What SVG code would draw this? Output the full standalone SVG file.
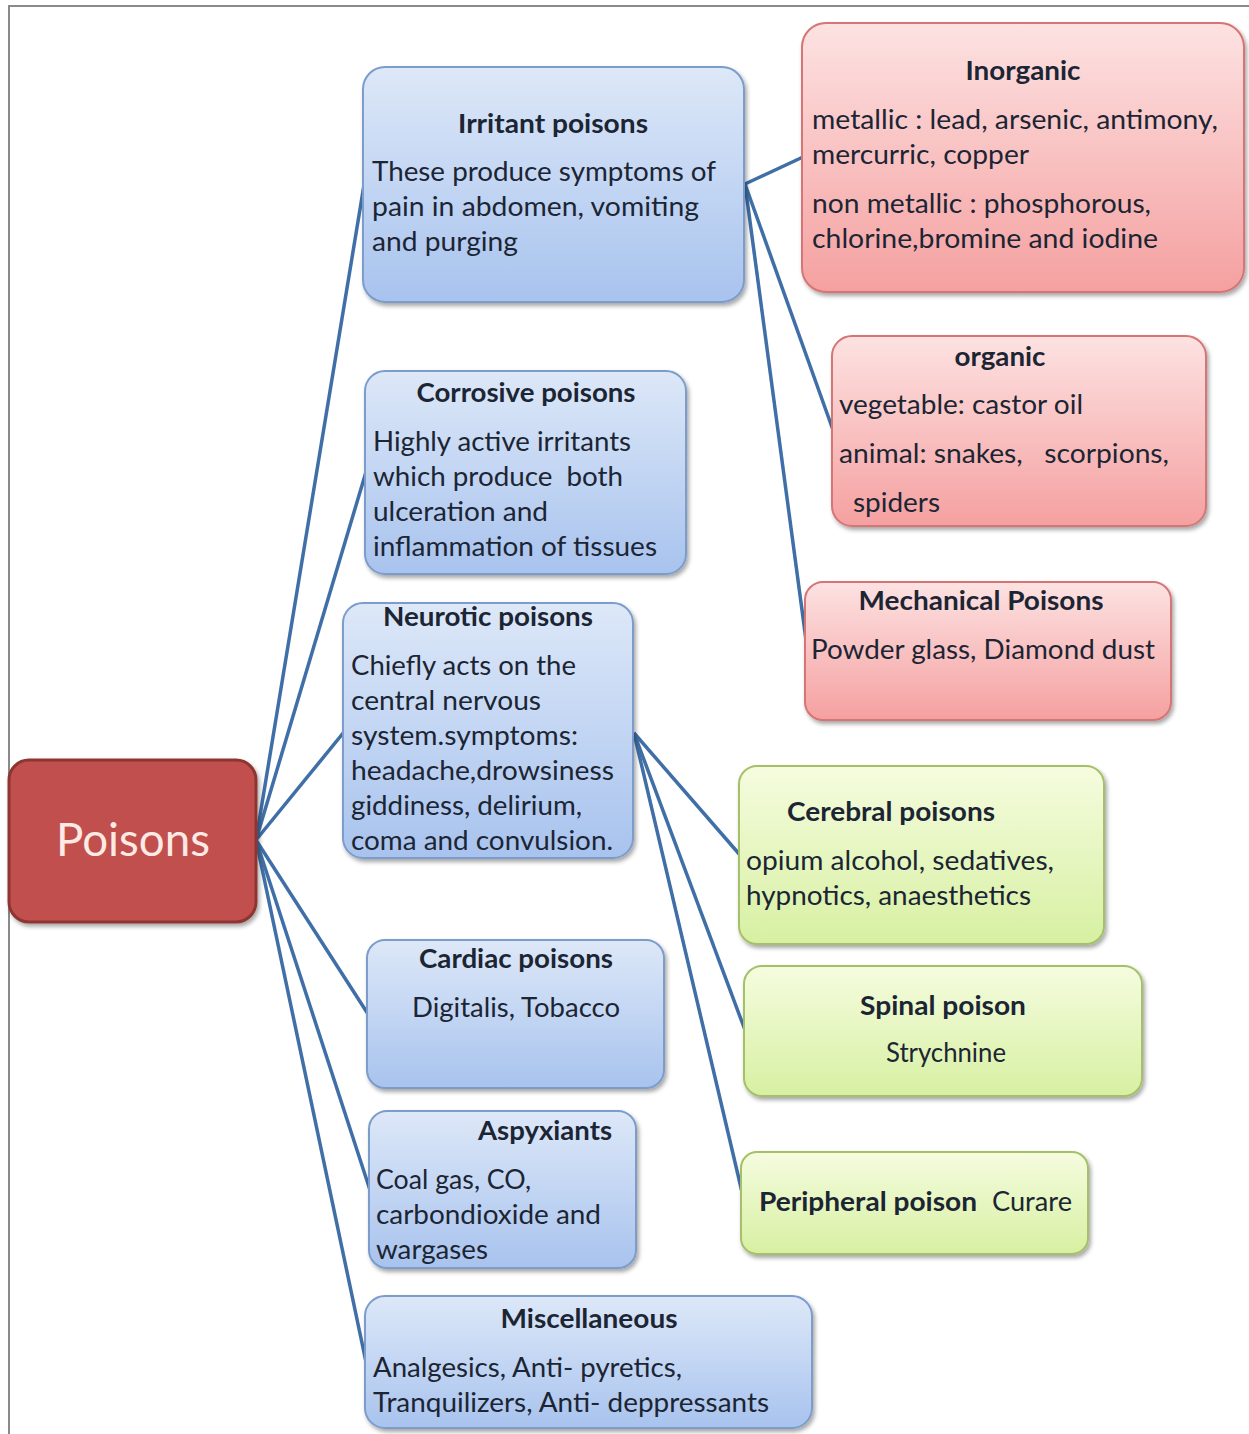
<svg xmlns="http://www.w3.org/2000/svg" width="1249" height="1434" viewBox="0 0 1249 1434">
<defs>
<linearGradient id="gBlue" x1="0" y1="0" x2="0" y2="1"><stop offset="0" stop-color="#dde8f8"/><stop offset="1" stop-color="#a8c3ee"/></linearGradient>
<linearGradient id="gRed" x1="0" y1="0" x2="0" y2="1"><stop offset="0" stop-color="#fde2e2"/><stop offset="1" stop-color="#f5a0a0"/></linearGradient>
<linearGradient id="gGreen" x1="0" y1="0" x2="0" y2="1"><stop offset="0" stop-color="#f5fcdf"/><stop offset="1" stop-color="#d7f0a2"/></linearGradient>
<filter id="sh" x="-10%" y="-10%" width="125%" height="130%"><feDropShadow dx="2" dy="3" stdDeviation="2" flood-color="#000" flood-opacity="0.35"/></filter>
<style>
.blue{fill:url(#gBlue);stroke:#7b9dcc;stroke-width:2;filter:url(#sh)}
.red{fill:url(#gRed);stroke:#d57474;stroke-width:2;filter:url(#sh)}
.green{fill:url(#gGreen);stroke:#a6c06a;stroke-width:2;filter:url(#sh)}
.root{fill:#c0504d;stroke:#8e3633;stroke-width:3;filter:url(#sh)}
text{font-family:Lato,"Open Sans","Liberation Sans",sans-serif;fill:#1c2533}
.t{font-weight:bold;font-size:26px;text-anchor:middle}
.b{font-size:27px}
.c{font-size:27px;text-anchor:middle}
.edge{stroke:#3f6fa6;stroke-width:3.5;fill:none}
</style>
</defs>
<rect x="0" y="0" width="1249" height="1434" fill="#ffffff"/>
<path d="M9,1434 V6 H1249" fill="none" stroke="#8a8a8a" stroke-width="2"/>

<g id="connectors">
<line class="edge" x1="256" y1="840" x2="364" y2="185"/>
<line class="edge" x1="256" y1="840" x2="366" y2="472"/>
<line class="edge" x1="256" y1="840" x2="344" y2="732"/>
<line class="edge" x1="256" y1="840" x2="368" y2="1014"/>
<line class="edge" x1="256" y1="840" x2="370" y2="1190"/>
<line class="edge" x1="256" y1="840" x2="366" y2="1362"/>
<line class="edge" x1="745" y1="184" x2="803" y2="157"/>
<line class="edge" x1="745" y1="184" x2="833" y2="430"/>
<line class="edge" x1="745" y1="184" x2="806" y2="640"/>
<line class="edge" x1="634" y1="733" x2="740" y2="855"/>
<line class="edge" x1="634" y1="733" x2="745" y2="1030"/>
<line class="edge" x1="634" y1="733" x2="742" y2="1192"/>
</g>

<g id="poisons">
<rect class="root" x="9" y="760" width="247" height="162" rx="20"/>
<text x="133" y="856" font-size="46" text-anchor="middle" style="fill:#fdeae4" textLength="154" lengthAdjust="spacingAndGlyphs">Poisons</text>
</g>

<g id="irritant">
<rect class="blue" x="363" y="67" width="381" height="235" rx="22"/>
<text class="t" x="553" y="133" textLength="190" lengthAdjust="spacingAndGlyphs">Irritant poisons</text>
<text class="b" x="372" y="181" textLength="344" lengthAdjust="spacingAndGlyphs">These produce symptoms of</text>
<text class="b" x="372" y="216" textLength="327" lengthAdjust="spacingAndGlyphs">pain in abdomen, vomiting</text>
<text class="b" x="372" y="251" textLength="146" lengthAdjust="spacingAndGlyphs">and purging</text>
</g>

<g id="corrosive">
<rect class="blue" x="365" y="371" width="321" height="203" rx="20"/>
<text class="t" x="526" y="402" textLength="219" lengthAdjust="spacingAndGlyphs">Corrosive poisons</text>
<text class="b" x="373" y="451" textLength="258" lengthAdjust="spacingAndGlyphs">Highly active irritants</text>
<text class="b" x="373" y="486" textLength="250" lengthAdjust="spacingAndGlyphs" xml:space="preserve">which produce  both</text>
<text class="b" x="373" y="521" textLength="175" lengthAdjust="spacingAndGlyphs">ulceration and</text>
<text class="b" x="373" y="556" textLength="284" lengthAdjust="spacingAndGlyphs">inflammation of tissues</text>
</g>

<g id="neurotic">
<rect class="blue" x="343" y="603" width="290" height="255" rx="20"/>
<text class="t" x="488" y="626" textLength="210" lengthAdjust="spacingAndGlyphs">Neurotic poisons</text>
<text class="b" x="351" y="675" textLength="225" lengthAdjust="spacingAndGlyphs">Chiefly acts on the</text>
<text class="b" x="351" y="710" textLength="190" lengthAdjust="spacingAndGlyphs">central nervous</text>
<text class="b" x="351" y="745" textLength="227" lengthAdjust="spacingAndGlyphs">system.symptoms:</text>
<text class="b" x="351" y="780" textLength="263" lengthAdjust="spacingAndGlyphs">headache,drowsiness</text>
<text class="b" x="351" y="815" textLength="231" lengthAdjust="spacingAndGlyphs">giddiness, delirium,</text>
<text class="b" x="351" y="850" textLength="262" lengthAdjust="spacingAndGlyphs">coma and convulsion.</text>
</g>

<g id="cardiac">
<rect class="blue" x="367" y="940" width="297" height="148" rx="18"/>
<text class="t" x="516" y="968" textLength="194" lengthAdjust="spacingAndGlyphs">Cardiac poisons</text>
<text class="c" x="516" y="1017" textLength="208" lengthAdjust="spacingAndGlyphs">Digitalis, Tobacco</text>
</g>

<g id="aspyxiants">
<rect class="blue" x="369" y="1111" width="267" height="157" rx="18"/>
<text class="t" x="545" y="1140" textLength="134" lengthAdjust="spacingAndGlyphs">Aspyxiants</text>
<text class="b" x="376" y="1189" textLength="155" lengthAdjust="spacingAndGlyphs">Coal gas, CO,</text>
<text class="b" x="376" y="1224" textLength="225" lengthAdjust="spacingAndGlyphs">carbondioxide and</text>
<text class="b" x="376" y="1259" textLength="112" lengthAdjust="spacingAndGlyphs">wargases</text>
</g>

<g id="miscellaneous">
<rect class="blue" x="365" y="1296" width="447" height="132" rx="20"/>
<text class="t" x="589" y="1328" textLength="177" lengthAdjust="spacingAndGlyphs">Miscellaneous</text>
<text class="b" x="373" y="1377" textLength="309" lengthAdjust="spacingAndGlyphs">Analgesics, Anti- pyretics,</text>
<text class="b" x="373" y="1412" textLength="396" lengthAdjust="spacingAndGlyphs">Tranquilizers, Anti- deppressants</text>
</g>

<g id="inorganic">
<rect class="red" x="802" y="23" width="442" height="269" rx="24"/>
<text class="t" x="1023" y="80" textLength="115" lengthAdjust="spacingAndGlyphs">Inorganic</text>
<text class="b" x="812" y="129" textLength="406" lengthAdjust="spacingAndGlyphs">metallic : lead, arsenic, antimony,</text>
<text class="b" x="812" y="164" textLength="217" lengthAdjust="spacingAndGlyphs">mercurric, copper</text>
<text class="b" x="812" y="213" textLength="339" lengthAdjust="spacingAndGlyphs">non metallic : phosphorous,</text>
<text class="b" x="812" y="248" textLength="346" lengthAdjust="spacingAndGlyphs">chlorine,bromine and iodine</text>
</g>

<g id="organic">
<rect class="red" x="832" y="336" width="374" height="190" rx="20"/>
<text class="t" x="1000" y="366" textLength="91" lengthAdjust="spacingAndGlyphs">organic</text>
<text class="b" x="839" y="414" textLength="244" lengthAdjust="spacingAndGlyphs">vegetable: castor oil</text>
<text class="b" x="839" y="463" textLength="330" lengthAdjust="spacingAndGlyphs" xml:space="preserve">animal: snakes,   scorpions,</text>
<text class="b" x="853" y="512" textLength="87" lengthAdjust="spacingAndGlyphs">spiders</text>
</g>

<g id="mechanical">
<rect class="red" x="805" y="582" width="366" height="138" rx="18"/>
<text class="t" x="981" y="610" textLength="245" lengthAdjust="spacingAndGlyphs">Mechanical Poisons</text>
<text class="b" x="811" y="659" textLength="344" lengthAdjust="spacingAndGlyphs">Powder glass, Diamond dust</text>
</g>

<g id="cerebral">
<rect class="green" x="739" y="766" width="365" height="178" rx="18"/>
<text class="t" x="891" y="821" textLength="208" lengthAdjust="spacingAndGlyphs">Cerebral poisons</text>
<text class="b" x="746" y="870" textLength="308" lengthAdjust="spacingAndGlyphs">opium alcohol, sedatives,</text>
<text class="b" x="746" y="905" textLength="285" lengthAdjust="spacingAndGlyphs">hypnotics, anaesthetics</text>
</g>

<g id="spinal">
<rect class="green" x="744" y="966" width="398" height="130" rx="18"/>
<text class="t" x="943" y="1015" textLength="166" lengthAdjust="spacingAndGlyphs">Spinal poison</text>
<text class="c" x="946" y="1062" font-size="25" textLength="120" lengthAdjust="spacingAndGlyphs">Strychnine</text>
</g>

<g id="peripheral">
<rect class="green" x="741" y="1152" width="347" height="102" rx="16"/>
<text x="759" y="1211" font-size="26" font-weight="bold" textLength="218" lengthAdjust="spacingAndGlyphs">Peripheral poison</text>
<text x="992" y="1211" font-size="26" textLength="80" lengthAdjust="spacingAndGlyphs">Curare</text>
</g>
</svg>
